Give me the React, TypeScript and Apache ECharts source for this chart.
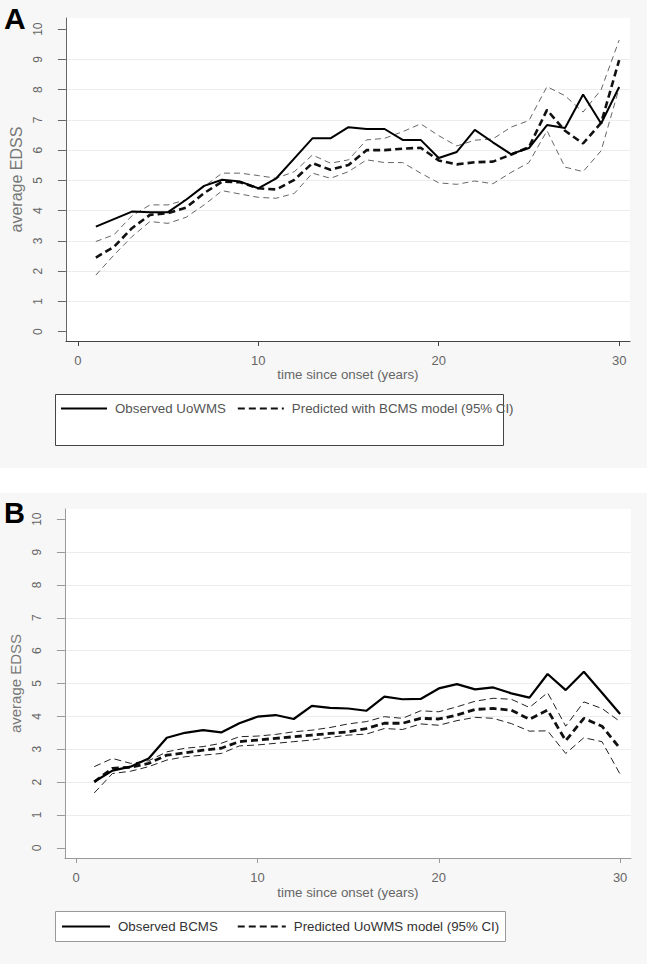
import React, { useEffect, useRef } from "react";
import * as echarts from "echarts";

const years = [1, 2, 3, 4, 5, 6, 7, 8, 9, 10, 11, 12, 13, 14, 15, 16, 17, 18, 19, 20, 21, 22, 23, 24, 25, 26, 27, 28, 29, 30];
const yTicks = [0, 1, 2, 3, 4, 5, 6, 7, 8, 9, 10];
const xTicks = [0, 10, 20, 30];

// Panel A
const obsA = [3.47, 3.72, 3.97, 3.95, 3.95, 4.36, 4.82, 5.02, 4.96, 4.74, 5.07, 5.73, 6.39, 6.39, 6.76, 6.7, 6.7, 6.34, 6.34, 5.74, 5.94, 6.67, 6.26, 5.87, 6.07, 6.83, 6.73, 7.84, 6.88, 8.09];
const predA = [2.45, 2.8, 3.42, 3.86, 3.92, 4.1, 4.58, 4.96, 4.94, 4.74, 4.7, 5.02, 5.57, 5.35, 5.51, 6.0, 6.0, 6.05, 6.08, 5.66, 5.53, 5.6, 5.62, 5.85, 6.1, 7.33, 6.64, 6.22, 6.9, 8.98];
const upperA = [2.98, 3.2, 3.83, 4.19, 4.19, 4.36, 4.8, 5.24, 5.24, 5.16, 5.07, 5.29, 5.84, 5.57, 5.68, 6.34, 6.39, 6.61, 6.87, 6.48, 6.14, 6.33, 6.37, 6.76, 6.98, 8.1, 7.8, 7.26, 8.0, 9.64];
const lowerA = [1.87, 2.53, 3.14, 3.64, 3.58, 3.78, 4.19, 4.66, 4.55, 4.44, 4.41, 4.57, 5.24, 5.07, 5.29, 5.68, 5.59, 5.59, 5.24, 4.92, 4.87, 4.98, 4.89, 5.26, 5.59, 6.64, 5.44, 5.29, 5.98, 8.06];

// Panel B
const obsB = [2.01, 2.35, 2.47, 2.72, 3.35, 3.5, 3.58, 3.51, 3.79, 3.99, 4.04, 3.92, 4.32, 4.26, 4.24, 4.17, 4.6, 4.52, 4.53, 4.85, 4.98, 4.82, 4.88, 4.7, 4.57, 5.29, 4.8, 5.36, 4.72, 4.07];
const predB = [2.01, 2.42, 2.45, 2.57, 2.82, 2.89, 2.97, 3.03, 3.23, 3.28, 3.33, 3.38, 3.43, 3.48, 3.53, 3.63, 3.79, 3.79, 3.94, 3.92, 4.04, 4.21, 4.24, 4.19, 3.91, 4.19, 3.26, 3.94, 3.7, 3.02];
const upperB = [2.47, 2.72, 2.57, 2.65, 2.92, 3.03, 3.08, 3.18, 3.38, 3.4, 3.45, 3.53, 3.58, 3.66, 3.77, 3.84, 3.99, 3.94, 4.17, 4.14, 4.29, 4.46, 4.55, 4.52, 4.27, 4.72, 3.7, 4.44, 4.24, 3.84];
const lowerB = [1.67, 2.26, 2.33, 2.47, 2.67, 2.77, 2.82, 2.87, 3.1, 3.13, 3.18, 3.23, 3.28, 3.36, 3.43, 3.46, 3.63, 3.6, 3.77, 3.73, 3.87, 3.97, 3.94, 3.78, 3.55, 3.56, 2.87, 3.35, 3.23, 2.24];

const FONT = "'Liberation Sans', Arial, sans-serif";

const pairs = (ys: number[]) => years.map((x, i) => [x, ys[i]]);

function makeXAxis(gridIndex: number, min: number, max: number, axisColor: string, nameGap: number) {
  return {
    type: "value",
    gridIndex,
    min,
    max,
    name: "time since onset (years)",
    nameLocation: "middle",
    nameGap,
    nameTextStyle: { color: "#666", fontSize: 13.3, fontFamily: FONT },
    axisLine: { show: true, onZero: false, lineStyle: { color: axisColor, width: 1 } },
    axisTick: { show: true, length: 5, customValues: xTicks, lineStyle: { color: axisColor } },
    axisLabel: { show: true, customValues: xTicks, margin: 13, color: "#666", fontSize: 13, fontFamily: FONT },
    splitLine: { show: false },
  };
}

function makeYAxis(gridIndex: number, min: number, max: number, axisColor: string, nameGap: number, nameSize: number) {
  return {
    type: "value",
    gridIndex,
    min,
    max,
    splitNumber: 10,
    name: "average EDSS",
    nameLocation: "middle",
    nameGap,
    nameTextStyle: { color: "#777", fontSize: nameSize, fontFamily: FONT },
    axisLine: { show: true, onZero: false, lineStyle: { color: axisColor, width: 1 } },
    axisTick: { show: true, length: 8, customValues: yTicks, lineStyle: { color: axisColor } },
    axisLabel: {
      show: true,
      showMinLabel: false,
      showMaxLabel: false,
      hideOverlap: false,
      rotate: 90,
      margin: 22,
      color: "#666",
      fontSize: 12,
      fontFamily: FONT,
      formatter: (v: number) => (yTicks.indexOf(v) >= 0 ? String(v) : ""),
    },
    splitLine: { show: true, showMinLine: false, showMaxLine: false, lineStyle: { color: "#ededed", width: 1 } },
  };
}

function lineSeries(name: string, data: number[], idx: number, color: string, width: number, type: any) {
  return {
    type: "line",
    name,
    xAxisIndex: idx,
    yAxisIndex: idx,
    data: pairs(data),
    symbol: "none",
    showSymbol: false,
    silent: true,
    lineStyle: { color, width, type },
    itemStyle: { color },
    z: 3,
  };
}

export default function App() {
  const ref = useRef<HTMLDivElement>(null);
  useEffect(() => {
    document.body.style.margin = "0";
    if (!ref.current) return;
    const chart = echarts.init(ref.current, null, { renderer: "svg" });
    const obsNameA = "Observed UoWMS";
    const predNameA = "Predicted with BCMS model (95% CI)";
    const obsNameB = "Observed BCMS";
    const predNameB = "Predicted UoWMS model (95% CI)";
    chart.setOption({
      animation: false,
      backgroundColor: "transparent",
      textStyle: { fontFamily: FONT },
      title: [
        { text: "A", left: 4, top: 3, padding: 0, textStyle: { fontSize: 30, fontWeight: "bold", color: "#000", fontFamily: FONT } },
        { text: "B", left: 4, top: 498, padding: 0, textStyle: { fontSize: 29, fontWeight: "bold", color: "#000", fontFamily: FONT } },
      ],
      grid: [
        { left: 62, top: 18, width: 568, height: 323, show: true, backgroundColor: "#ffffff", borderWidth: 0 },
        { left: 62, top: 509, width: 569, height: 349, show: true, backgroundColor: "#ffffff", borderWidth: 0 },
      ],
      xAxis: [makeXAxis(0, -0.66, 30.6, "#444", 26), makeXAxis(1, -0.62, 30.6, "#999", 28)],
      yAxis: [makeYAxis(0, -0.31, 10.37, "#666", 34, 16), makeYAxis(1, -0.31, 10.31, "#999", 29, 15)],
      legend: [
        {
          data: [obsNameA, predNameA],
          left: 60,
          top: 402,
          padding: 0,
          itemWidth: 46,
          itemHeight: 2,
          itemGap: 11,
          selectedMode: false,
          itemStyle: { color: "transparent", borderWidth: 0, opacity: 0 },
          textStyle: { color: "#555", fontSize: 13.3, fontFamily: FONT, padding: [0, 0, 0, 3] },
        },
        {
          data: [obsNameB, predNameB],
          left: 61,
          top: 920,
          padding: 0,
          itemWidth: 48,
          itemHeight: 2,
          itemGap: 19,
          selectedMode: false,
          itemStyle: { color: "transparent", borderWidth: 0, opacity: 0 },
          textStyle: { color: "#333", fontSize: 13.3, fontFamily: FONT, padding: [0, 0, 0, 3] },
        },
      ],
      graphic: [
        { type: "rect", z: 0, shape: { x: 55.5, y: 394.5, width: 448, height: 51 }, style: { fill: "#ffffff", stroke: "#444", lineWidth: 1 } },
        { type: "rect", z: 0, shape: { x: 55.5, y: 911.5, width: 450, height: 30 }, style: { fill: "#ffffff", stroke: "#999", lineWidth: 1 } },
      ],
      series: [
        lineSeries("Upper CI A", upperA, 0, "#666", 1, [6, 4]),
        lineSeries("Lower CI A", lowerA, 0, "#666", 1, [6, 4]),
        lineSeries(predNameA, predA, 0, "#111", 2.6, [7, 4]),
        lineSeries(obsNameA, obsA, 0, "#000", 2, "solid"),
        lineSeries("Upper CI B", upperB, 1, "#222", 1, [7, 4]),
        lineSeries("Lower CI B", lowerB, 1, "#222", 1, [7, 4]),
        lineSeries(predNameB, predB, 1, "#111", 2.8, [7, 4]),
        lineSeries(obsNameB, obsB, 1, "#000", 2.2, "solid"),
      ],
    });
    return () => chart.dispose();
  }, []);
  return (
    <div
      ref={ref}
      style={{
        width: 647,
        height: 964,
        background: "linear-gradient(to bottom, #f7f7f7 0px, #f7f7f7 468px, #ffffff 468px, #ffffff 493px, #f7f7f7 493px, #f7f7f7 964px)",
      }}
    />
  );
}
